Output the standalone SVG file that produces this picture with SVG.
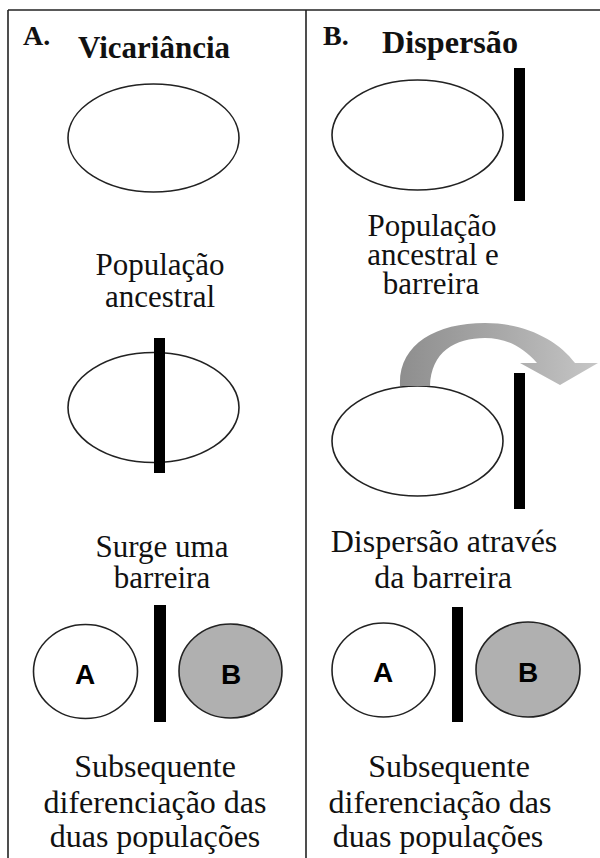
<svg xmlns="http://www.w3.org/2000/svg" width="600" height="858" viewBox="0 0 600 858">
<style>
.frame{stroke:#222;stroke-width:1.6;fill:none}
.pop{fill:#fff;stroke:#222;stroke-width:1.6}
.popB{fill:#b0b0b0;stroke:#222;stroke-width:1.6}
.bar{fill:#000}
.title{font-weight:bold;fill:#111}
.lbl{font-size:31px;fill:#111;text-anchor:middle}
.lbl2{font-size:32px;fill:#111;text-anchor:middle}
.letter{font-weight:bold;font-size:28px;fill:#000;text-anchor:middle}
</style>
<defs>
<linearGradient id="arrowGrad" x1="0" y1="0" x2="1" y2="0">
<stop offset="0" stop-color="#8e8e8e"/>
<stop offset="0.5" stop-color="#a8a8a8"/>
<stop offset="1" stop-color="#c6c6c6"/>
</linearGradient>
</defs>
<rect width="600" height="858" fill="#fff"/>
<g id="frame">
<line class="frame" x1="8" y1="10" x2="600" y2="10"/>
<line class="frame" x1="8" y1="10" x2="8" y2="858"/>
<line class="frame" x1="306" y1="10" x2="306" y2="858"/>
</g>
<g id="panelA-title" font-family="'Liberation Serif', 'DejaVu Serif', 'Times New Roman', serif">
<text class="title" x="23" y="45" font-size="28">A.</text>
<text class="title" x="78" y="58" font-size="31" textLength="152" lengthAdjust="spacingAndGlyphs">Vicariância</text>
</g>
<g id="panelB-title" font-family="'Liberation Serif', 'DejaVu Serif', 'Times New Roman', serif">
<text class="title" x="323" y="45" font-size="28">B.</text>
<text class="title" x="382" y="53" font-size="31" textLength="136" lengthAdjust="spacingAndGlyphs">Dispersão</text>
</g>
<g id="A-ancestral" font-family="'Liberation Serif', 'DejaVu Serif', 'Times New Roman', serif">
<ellipse class="pop" cx="153.5" cy="138" rx="85.5" ry="54"/>
<text class="lbl" x="160" y="275">População</text>
<text class="lbl" x="160" y="307">ancestral</text>
</g>
<g id="A-barreira" font-family="'Liberation Serif', 'DejaVu Serif', 'Times New Roman', serif">
<ellipse class="pop" cx="153.5" cy="407.5" rx="85.5" ry="55"/>
<rect class="bar" x="154" y="338" width="11" height="135"/>
<text class="lbl" x="162" y="557">Surge uma</text>
<text class="lbl" x="162" y="588">barreira</text>
</g>
<g id="A-diferenciacao" font-family="'Liberation Serif', 'DejaVu Serif', 'Times New Roman', serif">
<ellipse class="pop" cx="85.5" cy="671.5" rx="52" ry="47"/>
<text class="letter" x="85" y="684" font-family="'Liberation Sans', Arial, sans-serif">A</text>
<rect class="bar" x="154" y="605" width="12" height="117"/>
<ellipse class="popB" cx="230.5" cy="671" rx="51.5" ry="47"/>
<text class="letter" x="231" y="684" font-family="'Liberation Sans', Arial, sans-serif">B</text>
<text class="lbl2" x="155" y="777">Subsequente</text>
<text class="lbl2" x="155" y="813">diferenciação das</text>
<text class="lbl2" x="155" y="847">duas populações</text>
</g>
<g id="B-ancestral" font-family="'Liberation Serif', 'DejaVu Serif', 'Times New Roman', serif">
<ellipse class="pop" cx="417.5" cy="135" rx="85.5" ry="55"/>
<rect class="bar" x="514" y="68" width="11" height="133"/>
<text class="lbl" x="432" y="236">População</text>
<text class="lbl" x="433" y="265">ancestral  e</text>
<text class="lbl" x="431" y="294">barreira</text>
</g>
<g id="B-dispersao" font-family="'Liberation Serif', 'DejaVu Serif', 'Times New Roman', serif">
<ellipse class="pop" cx="417.5" cy="441" rx="85.5" ry="55"/>
<rect class="bar" x="514" y="373" width="11" height="136"/>
<text class="lbl2" x="444" y="552">Dispersão através</text>
<text class="lbl2" x="443" y="588">da barreira</text>
</g>
<g id="B-diferenciacao" font-family="'Liberation Serif', 'DejaVu Serif', 'Times New Roman', serif">
<ellipse class="pop" cx="383.5" cy="670" rx="51.5" ry="47"/>
<text class="letter" x="383" y="682" font-family="'Liberation Sans', Arial, sans-serif">A</text>
<rect class="bar" x="452" y="607" width="11" height="115"/>
<ellipse class="popB" cx="528" cy="669.5" rx="52" ry="47.5"/>
<text class="letter" x="528" y="682" font-family="'Liberation Sans', Arial, sans-serif">B</text>
<text class="lbl2" x="449" y="777">Subsequente</text>
<text class="lbl2" x="440" y="813">diferenciação das</text>
<text class="lbl2" x="438" y="847">duas populações</text>
</g>
<g id="connectors">
<path d="M 400,386 C 398,345 435,323 485,323 C 525,323 558,340 575,363 L 598,363 L 560,385 L 520,363 L 537,363 C 522,346 505,338 485,338 C 455,338 431,352 430,386 Z" fill="url(#arrowGrad)"/>
</g>
</svg>
